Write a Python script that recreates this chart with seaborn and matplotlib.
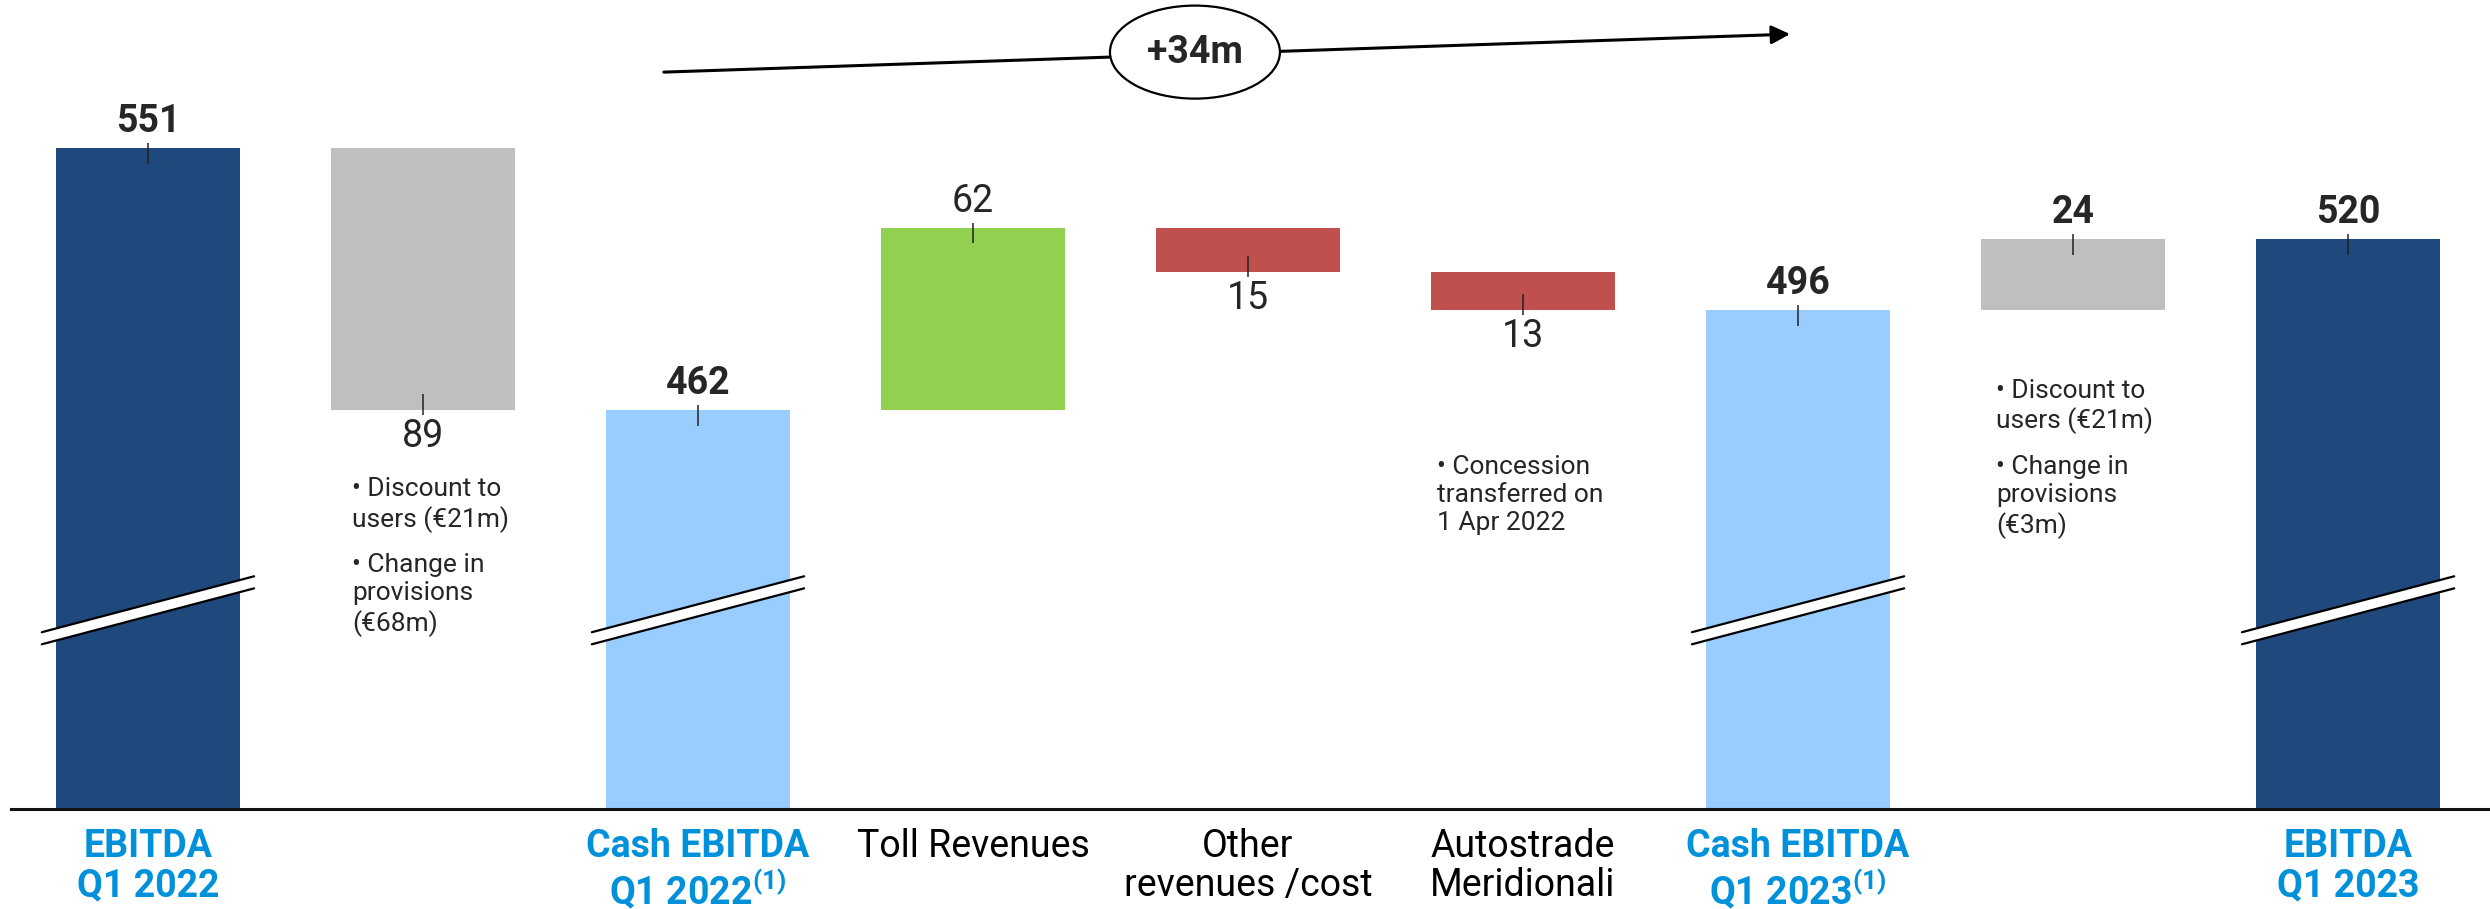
import numpy as np
import pandas as pd
import matplotlib
matplotlib.use("Agg")
import matplotlib.pyplot as plt
from matplotlib.patches import Ellipse
import seaborn as sns

# ---------------- data ----------------
steps = ["EBITDA Q1 2022", "Non-cash items Q1 2022", "Cash EBITDA Q1 2022", "Toll Revenues",
         "Other revenues /cost", "Autostrade Meridionali", "Cash EBITDA Q1 2023",
         "Non-cash items Q1 2023", "EBITDA Q1 2023"]
tick_labels = ["EBITDA\nQ1 2022", "", "Cash EBITDA\nQ1 2022$^{(1)}$", "Toll Revenues",
               "Other\nrevenues /cost", "Autostrade\nMeridionali",
               "Cash EBITDA\nQ1 2023$^{(1)}$", "", "EBITDA\nQ1 2023"]
values = [551, -89, 462, 62, -15, -13, 496, 24, 520]
is_total = [True, False, True, False, False, False, True, False, True]
value_labels = ["551", "89", "462", "62", "15", "13", "496", "24", "520"]
bold_value = [True, False, True, False, False, False, True, True, True]
bar_colors = ["#1F497D", "#BFBFBF", "#99CCFF", "#92D050", "#C0504D",
              "#C0504D", "#99CCFF", "#BFBFBF", "#1F497D"]
label_colors = ["#0091DA", "#000000", "#0091DA", "#000000", "#000000",
                "#000000", "#0091DA", "#000000", "#0091DA"]
notes = {
    1: ["• Discount to\nusers (€21m)", "• Change in\nprovisions\n(€68m)"],
    5: ["• Concession\ntransferred on\n1 Apr 2022"],
    7: ["• Discount to\nusers (€21m)", "• Change in\nprovisions\n(€3m)"],
}
delta_label = "+34m"

# ---------------- waterfall geometry ----------------
running = 0
bottoms, heights, edges, up = [], [], [], []
for v, tot in zip(values, is_total):
    if tot:
        bottoms.append(0); heights.append(v); edges.append(v); up.append(True)
        running = v
    else:
        new = running + v
        bottoms.append(min(running, new)); heights.append(abs(v))
        edges.append(new); up.append(v > 0)
        running = new

df = pd.DataFrame({"step": steps, "height": heights, "bottom": bottoms})

# ---------------- style ----------------
sns.set_style("white")
plt.rcParams["font.family"] = ["Roboto", "DejaVu Sans"]
plt.rcParams["mathtext.fontset"] = "custom"
plt.rcParams["mathtext.default"] = "regular"

fig = plt.figure(figsize=(24.9, 9.09), dpi=100)
ax = fig.add_axes([11 / 2490, 100 / 909, 1 - 11 / 2490, 809 / 909])

sns.barplot(data=df, x="step", y="height", order=steps, bottom=df["bottom"].to_numpy(),
            color="#BFBFBF", saturation=1, width=0.67, errorbar=None, ax=ax,
            linewidth=0, zorder=2)
for patch, c in zip(ax.patches, bar_colors):
    patch.set_facecolor(c)
    patch.set_edgecolor("none")

ax.set_ylim(326.5, 601.3)
ax.set_xlim(-0.498, 8.516)

for s in ["left", "top", "right"]:
    ax.spines[s].set_visible(False)
ax.spines["bottom"].set_linewidth(2.2)
ax.spines["bottom"].set_color("#111111")
ax.set_yticks([])
ax.set_ylabel("")
ax.set_xlabel("")
ax.set_xticks(range(len(steps)))
ax.set_xticklabels(tick_labels, fontsize=27, linespacing=1.07)
for lab, c, tot in zip(ax.get_xticklabels(), label_colors, is_total):
    lab.set_color(c)
    lab.set_fontweight("bold" if tot else "normal")
ax.tick_params(axis="x", length=0, pad=14)

# value labels and small tick marks
for i, (edge, u, txt, b) in enumerate(zip(edges, up, value_labels, bold_value)):
    if u:
        ax.vlines(i, edge - 5.4, edge + 1.7, color="#222222", lw=1.1, zorder=4)
        ax.annotate(txt, (i, edge), xytext=(0, 19.0), textcoords="offset points",
                    ha="center", va="center", fontsize=27,
                    fontweight="bold" if b else "normal")
    else:
        ax.vlines(i, edge - 1.7, edge + 5.4, color="#222222", lw=1.1, zorder=4)
        ax.annotate(txt, (i, edge), xytext=(0, -19.0), textcoords="offset points",
                    ha="center", va="center", fontsize=27,
                    fontweight="bold" if b else "normal")

# axis-break marks on the total bars
BREAK_Y, BREAK_GAP, BREAK_RISE, BREAK_HALF = 394.0, 4.1, 19.0, 0.386
for i, tot in enumerate(is_total):
    if not tot:
        continue
    xl, xr = i - BREAK_HALF, i + BREAK_HALF
    up_l, up_r = BREAK_Y - BREAK_RISE / 2 + BREAK_GAP / 2, BREAK_Y + BREAK_RISE / 2 + BREAK_GAP / 2
    lo_l, lo_r = up_l - BREAK_GAP, up_r - BREAK_GAP
    ax.fill([xl, xr, xr, xl], [up_l, up_r, lo_r, lo_l], color="white", zorder=5, lw=0)
    ax.plot([xl, xr], [up_l, up_r], color="black", lw=1.6, zorder=6)
    ax.plot([xl, xr], [lo_l, lo_r], color="black", lw=1.6, zorder=6)

# explanatory notes
note_pos = {1: (0.742, [429.7, 399.2]), 5: (4.687, [433.1]), 7: (6.72, [463.2, 432.5])}
for k, blocks in notes.items():
    x0, ys = note_pos[k]
    for txt, y in zip(blocks, ys):
        ax.text(x0, y, txt, ha="left", va="center", fontsize=19, linespacing=1.22, zorder=3)

# +34m arrow with ellipse
ax.annotate("", xy=(5.971, 589.7), xytext=(1.876, 576.8),
            arrowprops=dict(arrowstyle="-|>", color="black", lw=2.2, mutation_scale=28,
                            shrinkA=0, shrinkB=0), zorder=6)
ell = Ellipse((3.807, 583.6), width=0.618, height=31.6, facecolor="white",
              edgecolor="black", lw=1.6, zorder=7)
ax.add_patch(ell)
ax.text(3.807, 583.6, delta_label, ha="center", va="center", fontsize=27,
        fontweight="bold", zorder=8)

fig.savefig("out.png", dpi=100)
